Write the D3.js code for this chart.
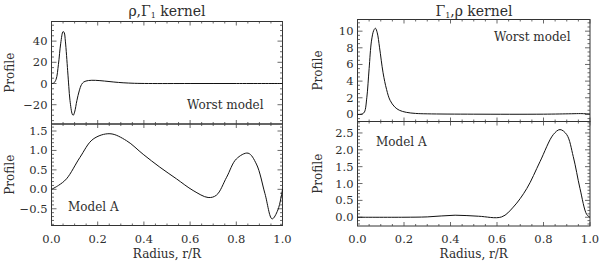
<!DOCTYPE html>
<html>
<head>
<meta charset="utf-8">
<script src="https://cdn.jsdelivr.net/npm/d3@7"></script>
<style>
  body { margin: 0; background: #fff; }
  svg text { font-family: "DejaVu Serif", "Liberation Serif", serif; fill: #2e2e2e; }
</style>
</head>
<body>
<div id="chart"></div>
<script>
// kernel profiles (r/R, profile)
const rhoWorstR = [0, 0.01, 0.02, 0.03, 0.04, 0.05, 0.055, 0.06, 0.07, 0.075, 0.08, 0.09, 0.094, 0.10, 0.11, 0.12, 0.13, 0.14, 0.16, 0.19, 0.23, 0.27, 0.31, 0.36, 0.42, 0.6, 0.8, 1.0];
const rhoWorstV = [0, 0.5, 4, 18, 38, 49, 48, 40, 12, -3, -16, -29, -30, -27, -16, -7, -1, 1.5, 2.8, 3, 2.3, 1.4, 0.7, 0.2, 0, 0, 0, 0];

const rhoModelR = [0, 0.03, 0.065, 0.123, 0.18, 0.253, 0.325, 0.397, 0.469, 0.541, 0.613, 0.678, 0.714, 0.758, 0.8, 0.851, 0.887, 0.924, 0.955, 0.98, 1.0];
const rhoModelV = [0, 0.1, 0.27, 0.82, 1.29, 1.43, 1.25, 0.9, 0.57, 0.27, -0.03, -0.21, -0.15, 0.31, 0.78, 0.93, 0.65, -0.11, -0.76, -0.53, 0.0];

const gamWorstR = [0, 0.02, 0.03, 0.04, 0.05, 0.06, 0.07, 0.077, 0.085, 0.095, 0.11, 0.125, 0.14, 0.16, 0.18, 0.21, 0.25, 0.3, 0.5, 0.8, 0.92, 0.96, 1.0];
const gamWorstV = [0, 0.05, 0.3, 2, 5.5, 8.8, 10.1, 10.35, 9.8, 8, 5, 3, 1.7, 0.9, 0.5, 0.25, 0.12, 0.07, 0.03, 0.03, 0.08, 0.1, 0.05];

const gamModelR = [0, 0.2, 0.3, 0.42, 0.52, 0.62, 0.67, 0.728, 0.785, 0.842, 0.871, 0.9, 0.928, 0.957, 0.986, 1.0];
const gamModelV = [0, 0, 0.01, 0.06, 0.03, 0.01, 0.3, 0.85, 1.65, 2.45, 2.6, 2.45, 1.8, 0.85, 0.08, 0];

const xTicks = [0, 0.2, 0.4, 0.6, 0.8, 1.0];

const W = 600, H = 261;
const svg = d3.select("#chart").append("svg")
    .attr("width", W)
    .attr("height", H);

// one panel = frame + ticks + curve
function panel(p) {
    const x = d3.scaleLinear().domain([0, 1]).range([p.x0, p.x1]);
    const y = d3.scaleLinear().domain(p.yDomain).range([p.y1, p.y0]);
    const g = svg.append("g");

    g.append("rect")
        .attr("x", p.x0).attr("y", p.y0)
        .attr("width", p.x1 - p.x0).attr("height", p.y1 - p.y0)
        .attr("fill", "none").attr("stroke", "#333").attr("stroke-width", 1);

    // x ticks on bottom and top edges, pointing in
    const xMinor = d3.range(0, 1.0001, 0.05);
    xMinor.forEach(function(v) {
        const major = Math.abs(v * 5 - Math.round(v * 5)) < 1e-6;
        const len = major ? 4 : 2;
        [[p.y1, -len], [p.y0, len]].forEach(function(e) {
            g.append("line")
                .attr("x1", x(v)).attr("x2", x(v))
                .attr("y1", e[0]).attr("y2", e[0] + e[1])
                .attr("stroke", "#444").attr("stroke-width", 0.8);
        });
    });

    // y ticks on left and right edges, pointing in
    const lo = p.yDomain[0], hi = p.yDomain[1];
    const step = p.yMajor / p.yMinorN;
    for (let v = Math.ceil(lo / step) * step; v <= hi + 1e-9; v += step) {
        const k = Math.round(v / step);
        const major = k % p.yMinorN === 0;
        const len = major ? 5 : 2.5;
        [[p.x0, len], [p.x1, -len]].forEach(function(e) {
            g.append("line")
                .attr("x1", e[0]).attr("x2", e[0] + e[1])
                .attr("y1", y(v)).attr("y2", y(v))
                .attr("stroke", "#444").attr("stroke-width", 0.8);
        });
        if (major) {
            g.append("text")
                .attr("x", p.x0 - 4).attr("y", y(v) + 4)
                .attr("text-anchor", "end")
                .attr("font-size", 11.5)
                .text(p.yFmt(k * step));
        }
    }

    const line = d3.line()
        .x((d, i) => x(p.r[i]))
        .y((d, i) => y(p.v[i]))
        .curve(d3.curveCatmullRom.alpha(0.5));
    g.append("path")
        .datum(p.v)
        .attr("d", line)
        .attr("fill", "none")
        .attr("stroke", "#111")
        .attr("stroke-width", 1);

    // Profile label
    g.append("text")
        .attr("transform", "translate(" + p.labX + "," + ((p.y0 + p.y1) / 2) + ") rotate(-90)")
        .attr("text-anchor", "middle")
        .attr("font-size", 12)
        .text("Profile");

    g.append("text")
        .attr("x", p.noteX).attr("y", p.noteY)
        .attr("font-size", 12)
        .text(p.note);

    if (p.bottom) {
        xTicks.forEach(function(t) {
            g.append("text")
                .attr("x", x(t)).attr("y", 243)
                .attr("text-anchor", "middle")
                .attr("font-size", 11.5)
                .text(d3.format(".1f")(t));
        });
        g.append("text")
            .attr("x", (p.x0 + p.x1) / 2).attr("y", 258)
            .attr("text-anchor", "middle")
            .attr("font-size", 12)
            .text("Radius, r/R");
    }
    return {x: x, y: y};
}

const f0 = d3.format("d"), f1 = d3.format(".1f");

panel({x0: 51.5, x1: 282.5, y0: 21.5, y1: 124, yDomain: [-38.2, 58.5], yMajor: 20, yMinorN: 4, yFmt: f0,
    r: rhoWorstR, v: rhoWorstV, labX: 14, note: "Worst model", noteX: 187, noteY: 109});
panel({x0: 51.5, x1: 282.5, y0: 124, y1: 225.5, yDomain: [-0.93, 1.68], yMajor: 0.5, yMinorN: 5, yFmt: f1,
    r: rhoModelR, v: rhoModelV, labX: 14, note: "Model A", noteX: 68, noteY: 211, bottom: true});
panel({x0: 357.5, x1: 590, y0: 19.5, y1: 121.5, yDomain: [-0.85, 11.4], yMajor: 2, yMinorN: 4, yFmt: f0,
    r: gamWorstR, v: gamWorstV, labX: 322, note: "Worst model", noteX: 494, noteY: 41});
panel({x0: 357.5, x1: 590, y0: 121.5, y1: 226, yDomain: [-0.26, 2.84], yMajor: 0.5, yMinorN: 5, yFmt: f1,
    r: gamModelR, v: gamModelV, labX: 322, note: "Model A", noteX: 376, noteY: 146, bottom: true});

// titles with subscripted Gamma
const t1 = svg.append("text").attr("x", 167).attr("y", 16).attr("text-anchor", "middle").attr("font-size", 14);
t1.append("tspan").text("ρ,Γ");
t1.append("tspan").attr("font-size", 8).attr("dy", 2).text("1");
t1.append("tspan").attr("dy", -2).text(" kernel");

const t2 = svg.append("text").attr("x", 474).attr("y", 16).attr("text-anchor", "middle").attr("font-size", 14);
t2.append("tspan").text("Γ");
t2.append("tspan").attr("font-size", 8).attr("dy", 2).text("1");
t2.append("tspan").attr("dy", -2).text(",ρ kernel");
</script>
</body>
</html>
